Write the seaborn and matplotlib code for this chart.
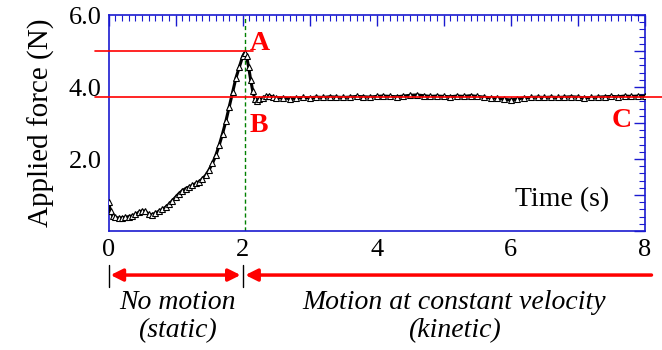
import matplotlib
matplotlib.use("Agg")
import matplotlib.pyplot as plt
import seaborn as sns
import pandas as pd
from matplotlib.ticker import MultipleLocator, FixedLocator, FixedFormatter

# dados
tempo = [0.00, 0.03, 0.06, 0.10, 0.15, 0.20, 0.25, 0.30, 0.35, 0.40, 0.45, 0.50,
         0.55, 0.60, 0.65, 0.70, 0.75, 0.80, 0.85, 0.90, 0.95, 1.00, 1.05, 1.10,
         1.15, 1.20, 1.25, 1.30, 1.35, 1.40, 1.45, 1.50, 1.55, 1.60, 1.65, 1.70,
         1.75, 1.80, 1.85, 1.90, 1.95, 2.00, 2.03, 2.06, 2.09, 2.12, 2.15, 2.18,
         2.21, 2.25, 2.30, 2.35, 2.40, 2.45, 2.50,
         2.6, 2.7, 2.8, 2.9, 3.0, 3.1, 3.2, 3.3, 3.4, 3.5, 3.6, 3.7, 3.8, 3.9,
         4.0, 4.1, 4.2, 4.3, 4.4, 4.5, 4.6, 4.7, 4.8, 4.9, 5.0, 5.1, 5.2, 5.3,
         5.4, 5.5, 5.6, 5.7, 5.8, 5.9, 6.0, 6.1, 6.2, 6.3, 6.4, 6.5, 6.6, 6.7,
         6.8, 6.9, 7.0, 7.1, 7.2, 7.3, 7.4, 7.5, 7.6, 7.7, 7.8, 7.9, 8.0]
forca = [0.80, 0.55, 0.42, 0.38, 0.36, 0.37, 0.38, 0.40, 0.42, 0.46, 0.52, 0.56,
         0.55, 0.46, 0.45, 0.50, 0.55, 0.60, 0.66, 0.74, 0.84, 0.94, 1.04, 1.12,
         1.18, 1.22, 1.27, 1.32, 1.37, 1.45, 1.55, 1.70, 1.88, 2.10, 2.38, 2.70,
         3.05, 3.45, 3.85, 4.25, 4.55, 4.85, 4.95, 4.85, 4.55, 4.20, 3.90, 3.68,
         3.62, 3.66, 3.70, 3.74, 3.76, 3.72, 3.70,
         3.70, 3.68, 3.69, 3.71, 3.70, 3.72, 3.71, 3.73, 3.72, 3.71, 3.72, 3.74,
         3.73, 3.72, 3.74, 3.75, 3.74, 3.73, 3.75, 3.77, 3.78, 3.76, 3.74, 3.75,
         3.74, 3.73, 3.75, 3.74, 3.76, 3.74, 3.72, 3.70, 3.69, 3.66, 3.64, 3.67,
         3.70, 3.71, 3.72, 3.71, 3.72, 3.71, 3.72, 3.73, 3.72, 3.70, 3.71, 3.72,
         3.73, 3.74, 3.73, 3.75, 3.74, 3.75, 3.75]

forca_max = 5.0      # A
forca_cin = 3.73     # B / C
t_pico = 2.03
xmajor = [0, 1, 2, 3, 4, 5, 6, 7, 8]
xrotulos = ['0', '', '2', '', '4', '', '6', '', '8']
ymajor = [0, 1, 2, 3, 4, 5, 6]
yrotulos = ['', '', '2.0', '', '4.0', '', '6.0']

df = pd.DataFrame({'tempo': tempo, 'forca': forca})

sns.set_style("white")
plt.rcParams['font.family'] = ['Liberation Serif', 'DejaVu Serif']
plt.rcParams['text.color'] = 'black'
plt.rcParams['axes.labelcolor'] = 'black'

fig = plt.figure(figsize=(6.62, 3.5), dpi=100)
ax = fig.add_axes([0.164, 0.34, 0.81, 0.617])

sns.lineplot(x='tempo', y='forca', data=df, ax=ax, color='black', linewidth=2.2,
             marker='^', markersize=4, markerfacecolor='white',
             markeredgecolor='black', markeredgewidth=0.8, zorder=3)

ax.set_xlim(0, 8)
ax.set_ylim(0, 6)
ax.xaxis.set_major_locator(FixedLocator(xmajor))
ax.xaxis.set_major_formatter(FixedFormatter(xrotulos))
ax.xaxis.set_minor_locator(MultipleLocator(0.1))
ax.yaxis.set_major_locator(FixedLocator(ymajor))
ax.yaxis.set_major_formatter(FixedFormatter(yrotulos))
ax.yaxis.set_minor_locator(MultipleLocator(0.2))
ax.tick_params(which='both', direction='in', top=True, right=True, colors='#1a1ad0',
               labelcolor='black', labelsize=19)
ax.tick_params(which='major', length=8, width=1)
ax.tick_params(which='minor', length=4, width=0.8)
ax.tick_params(axis='x', pad=6)
ax.tick_params(axis='y', pad=5)
for s in ax.spines.values():
    s.set_color('#1a1ad0')
    s.set_linewidth(1.2)

ax.set_xlabel('')
ax.set_ylabel('Applied force (N)', fontsize=21, labelpad=10)

# linhas de referência
ax.plot([-0.2, 2.15], [forca_max, forca_max], color='red', lw=1.2, clip_on=False, zorder=4)
ax.plot([-0.2, 8.25], [forca_cin, forca_cin], color='red', lw=1.2, clip_on=False, zorder=4)
ax.axvline(t_pico, color='green', ls='--', lw=1, dashes=(3, 2), zorder=2)

ax.text(2.25, 5.2, 'A', color='red', fontsize=20, fontweight='bold', ha='center', va='center')
ax.text(2.24, 2.94, 'B', color='red', fontsize=20, fontweight='bold', ha='center', va='center')
ax.text(7.66, 3.08, 'C', color='red', fontsize=20, fontweight='bold', ha='center', va='center')
ax.text(6.76, 0.86, 'Time (s)', fontsize=20, ha='center', va='center')

# setas abaixo do eixo
tr = ax.get_xaxis_transform()
ax.plot([0, 0], [-0.157, -0.259], color='black', lw=1, transform=tr, clip_on=False)
ax.plot([2, 2], [-0.157, -0.259], color='black', lw=1, transform=tr, clip_on=False)
ax.annotate('', xy=(0.03, -0.204), xytext=(1.97, -0.204), xycoords=tr, textcoords=tr,
            arrowprops=dict(arrowstyle='<|-|>', color='red', lw=2.5, mutation_scale=18,
                            shrinkA=0, shrinkB=0))
ax.annotate('', xy=(2.04, -0.204), xytext=(8.1, -0.204), xycoords=tr, textcoords=tr,
            arrowprops=dict(arrowstyle='-|>', color='red', lw=2.5, mutation_scale=18,
                            shrinkA=0, shrinkB=0))

ax.text(1.03, -0.329, 'No motion', style='italic', fontsize=20, ha='center', va='center',
        transform=tr)
ax.text(1.03, -0.463, '(static)', style='italic', fontsize=20, ha='center', va='center',
        transform=tr)
ax.text(5.16, -0.329, 'Motion at constant velocity', style='italic', fontsize=20,
        ha='center', va='center', transform=tr)
ax.text(5.16, -0.463, '(kinetic)', style='italic', fontsize=20, ha='center', va='center',
        transform=tr)

fig.savefig('out.png', dpi=100)
